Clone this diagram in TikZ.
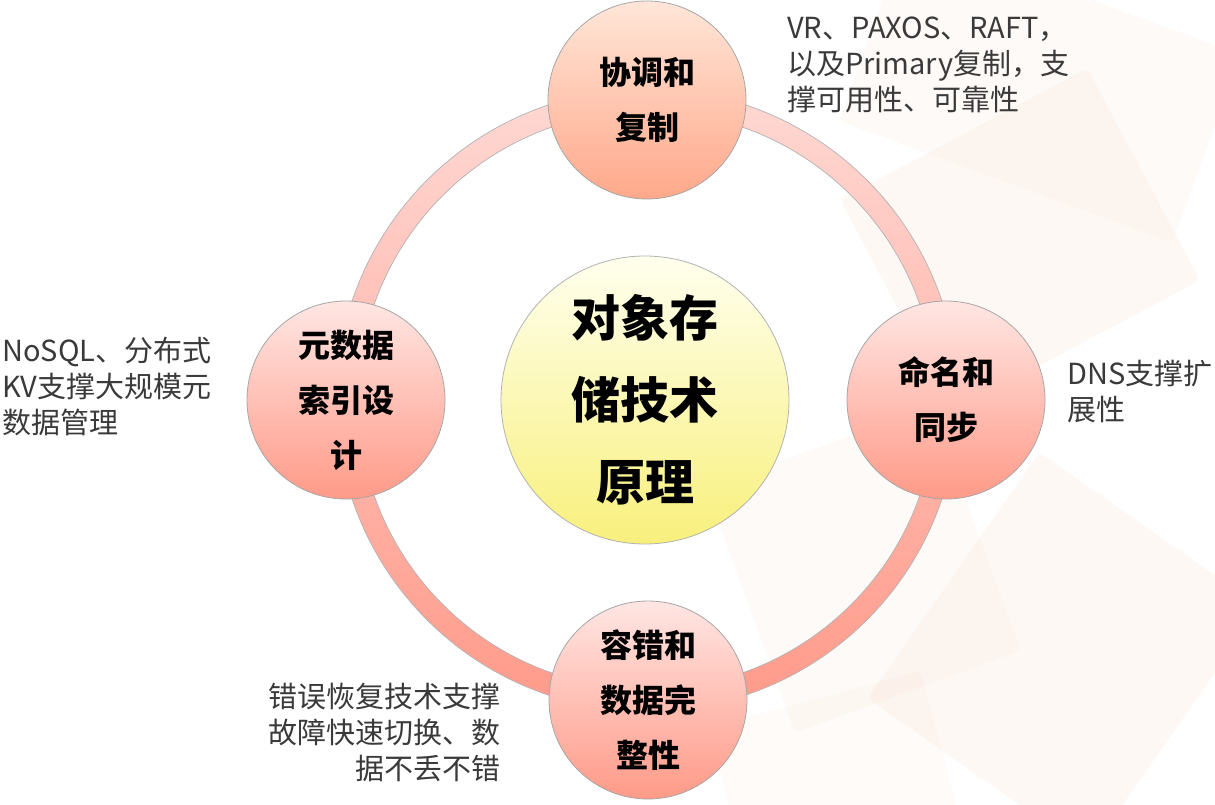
\documentclass[tikz,border=0pt]{standalone}
\usepackage{fontspec}
\newfontfamily\cjk{Noto Sans CJK SC}
\definecolor{ringtop}{HTML}{FFD8D3}
\definecolor{ringbot}{HTML}{FF9A8A}
\definecolor{nodetop}{HTML}{FFE6E3}
\definecolor{nodebot}{HTML}{FF9A88}
\definecolor{toptop}{HTML}{FFE6D8}
\definecolor{topbot}{HTML}{FFA88A}
\definecolor{midtop}{HTML}{FFFFEE}
\definecolor{midbot}{HTML}{F8F07C}
\definecolor{peach}{HTML}{FBE6D4}
\definecolor{sidetext}{HTML}{3A3A3A}
\tikzset{
  outerball/.style={circle, minimum size=198pt, inner sep=0pt, draw=black!35, line width=0.8pt,
    top color=nodetop, bottom color=nodebot, align=center,
    font=\cjk\bfseries\fontsize{32}{55}\selectfont},
  centreball/.style={circle, minimum size=288pt, inner sep=0pt, draw=black!30, line width=0.8pt,
    top color=midtop, bottom color=midbot, align=center,
    font=\cjk\bfseries\fontsize{49}{82}\selectfont},
  sidenote/.style={inner sep=0pt, text=sidetext, font=\cjk\fontsize{29}{36}\selectfont},
  decor/.style={fill=peach, opacity=0.25, draw=none, rounded corners=6pt}
}
\begin{document}
\begin{tikzpicture}[x=1pt,y=-1pt]
\useasboundingbox (0,0) rectangle (1215,805);
\fill[white] (0,0) rectangle (1215,805);
% faint background decoration
\fill[decor, rotate around={28:(1020,240)}] (880,120) rectangle (1160,360);
\fill[decor, rotate around={-35:(1060,650)}] (930,500) rectangle (1200,800);
\fill[decor, opacity=0.18, rotate around={20:(860,560)}] (740,440) rectangle (980,700);
\fill[decor, opacity=0.18, rotate around={-20:(960,80)}] (860,-40) rectangle (1215,160);
\fill[decor, opacity=0.15, rotate around={15:(820,760)}] (720,700) rectangle (940,840);
% ring
\coordinate (c) at (647,400);
\shade[top color=ringtop, bottom color=ringbot, even odd rule] (c) circle[radius=311] (c) circle[radius=289];
\draw[black!30, line width=0.7pt] (c) circle[radius=311] (c) circle[radius=289];
% nodes
\node[centreball] (core) at (645,400) {对象存\\储技术\\原理};
\node[outerball, top color=toptop, bottom color=topbot] (coord) at (647,100) {协调和\\复制};
\node[outerball] (meta) at (346,400) {元数据\\索引设\\计};
\node[outerball] (naming) at (946,400) {命名和\\同步};
\node[outerball] (fault) at (648,700) {容错和\\数据完\\整性};
% side notes
\node[sidenote, anchor=north west, align=left] (coordnote) at (787,17) {VR、PAXOS、RAFT，\\以及Primary复制，支\\撑可用性、可靠性};
\node[sidenote, anchor=north west, align=left] (metanote) at (2,337) {NoSQL、分布式\\KV支撑大规模元\\数据管理};
\node[sidenote, anchor=north west, align=left] (namingnote) at (1067,360) {DNS支撑扩\\展性};
\node[sidenote, anchor=north east, align=right] (faultnote) at (501,683) {错误恢复技术支撑\\故障快速切换、数\\据不丢不错};
\end{tikzpicture}
\end{document}
